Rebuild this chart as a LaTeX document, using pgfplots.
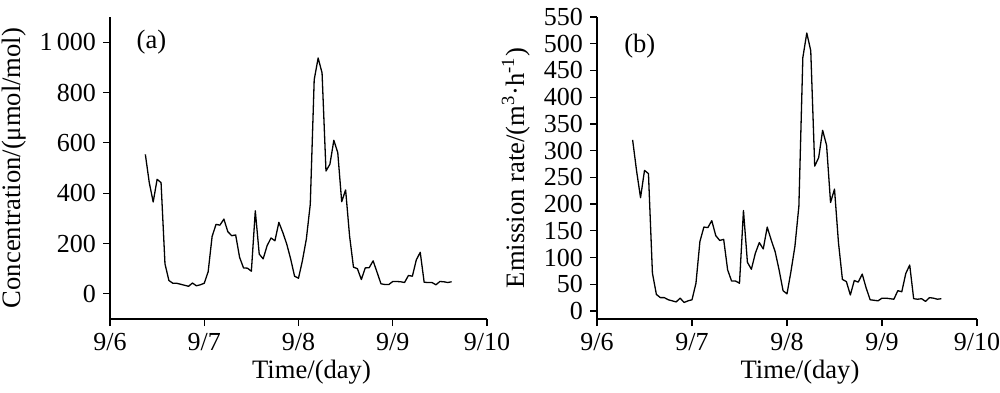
\documentclass[border=0pt]{standalone}
\usepackage{fontspec}
\setmainfont{Liberation Serif}
\usepackage{pgfplots}
\usepackage{pgfplotstable}
\pgfplotsset{compat=1.18}

% hour counted from 9/6 00:00, value
\pgfplotstableread{
h v
9 554
10 442
11 365
12 455
13 442
14 119
15 53
16 42
17 42
18 38
19 34
20 30
21 43
22 32
23 36
24 42
25 88
26 228
27 276
28 273
29 297
30 247
31 231
32 234
33 145
34 103
35 102
36 90
37 330
38 158
39 139
40 191
41 222
42 211
43 284
44 244
45 198
46 139
47 70
48 62
49 132
50 218
51 356
52 851
53 937
54 878
55 488
56 515
57 610
58 561
59 366
60 413
61 231
62 106
63 100
64 57
65 103
66 104
67 131
68 86
69 40
70 37
71 37
72 49
73 49
74 48
75 45
76 73
77 70
78 135
79 165
80 46
81 45
82 45
83 36
84 49
85 48
86 45
87 48
}\conc

\pgfplotstableread{
h v
9 320
10 262
11 212
12 263
13 257
14 71
15 31
16 25
17 25
18 21
19 19
20 17
21 24
22 16
23 19
24 21
25 52
26 130
27 157
28 156
29 169
30 141
31 132
32 134
33 77
34 56
35 56
36 52
37 188
38 91
39 78
40 108
41 128
42 116
43 157
44 133
45 111
46 77
47 38
48 32
49 74
50 121
51 196
52 474
53 520
54 487
55 271
56 287
57 338
58 310
59 203
60 228
61 128
62 59
63 55
64 30
65 57
66 54
67 69
68 43
69 21
70 20
71 19
72 24
73 24
74 23
75 22
76 38
77 36
78 70
79 86
80 23
81 22
82 23
83 18
84 25
85 24
86 22
87 23
}\emis

\begin{document}
\begin{tikzpicture}
\pgfplotsset{
  myaxis/.style={
    scale only axis,
    anchor=south west,
    height=151pt,
    axis lines=left,
    axis line style={-, line width=0.7pt},
    tick style={line width=0.6pt, black},
    major tick length=3.5pt,
    tick align=outside,
    xmin=0, xmax=4,
    xtick={0,1,2,3,4},
    xticklabels={9/6,9/7,9/8,9/9,9/10},
    tick label style={font=\fontsize{13}{15}\selectfont},
    label style={font=\fontsize{13.3}{16}\selectfont},
    /pgf/number format/assume math mode=true,
    xlabel={Time/(day)},
    xlabel style={yshift=2pt, xshift=6.5pt},
    clip=false,
  }
}
\path[use as bounding box] (0,0) rectangle (500pt,196pt);
\begin{axis}[myaxis,
  at={(55pt,36.5pt)},
  width=188.5pt,
  ymin=-100, ymax=1100,
  ytick={0,200,400,600,800,1000},
  yticklabels={0,200,400,600,800,1\,000},
  ylabel={Concentration/(μmol/mol)},
]
\addplot[black, line width=0.65pt, line join=round] table[x expr=\thisrow{h}/24, y=v] {\conc};
\node[font=\fontsize{13.3}{16}\selectfont] at (axis cs:0.44,1000) {(a)};
\end{axis}
\begin{axis}[myaxis,
  at={(298.5pt,36.5pt)},
  width=190pt,
  ymin=-15, ymax=550,
  ytick={0,50,...,550},
  ylabel={Emission rate/(m\textsuperscript{3}·h\textsuperscript{-1})},
]
\addplot[black, line width=0.65pt, line join=round] table[x expr=\thisrow{h}/24, y=v] {\emis};
\node[font=\fontsize{13.3}{16}\selectfont] at (axis cs:0.45,495) {(b)};
\end{axis}
\end{tikzpicture}
\end{document}
